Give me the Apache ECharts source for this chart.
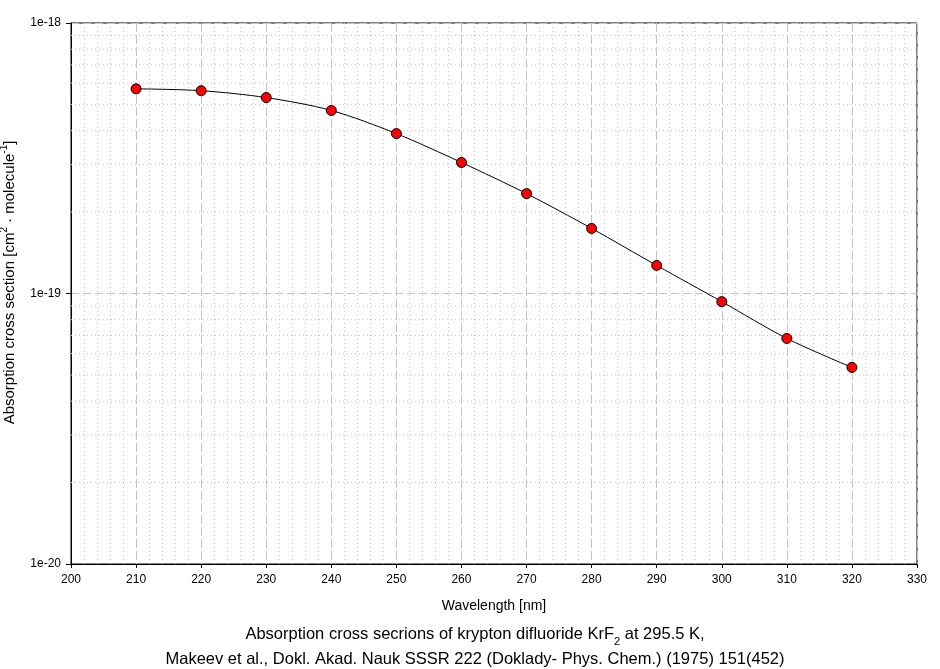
<!DOCTYPE html>
<html>
<head>
<meta charset="utf-8">
<script src="https://cdn.jsdelivr.net/npm/echarts@6/dist/echarts.min.js"></script>
<style>html,body{margin:0;padding:0;background:#fff;}#c{width:940px;height:669px;}</style>
</head>
<body>
<div id="c"></div>
<script>
var wavelengths = [210, 220, 230, 240, 250, 260, 270, 280, 290, 300, 310, 320];
var crossSections = [5.71e-19, 5.62e-19, 5.30e-19, 4.75e-19, 3.90e-19, 3.05e-19, 2.34e-19, 1.74e-19, 1.27e-19, 9.33e-20, 6.82e-20, 5.33e-20];
var minorLogLines = [2e-20,3e-20,4e-20,5e-20,6e-20,7e-20,8e-20,9e-20,2e-19,3e-19,4e-19,5e-19,6e-19,7e-19,8e-19,9e-19];
var xMin = 200, xMax = 330, xStep = 10, xMinorStep = 2;
var yMin = 1e-20, yMax = 1e-18;

var FONT = '"Liberation Sans", Arial, sans-serif';
var GRID_GRAY = '#c4c4c4';
var chart = echarts.init(document.getElementById('c'));
var data = wavelengths.map(function(w, i){ return [w, crossSections[i]]; });

var minorSeries = minorLogLines.map(function(v){
  return {
    type: 'line', data: [[xMin, v], [xMax, v]], symbol: 'none', silent: true,
    lineStyle: {color: GRID_GRAY, type: [1, 3], width: 1},
    emphasis: {disabled: true}, z: 1
  };
});

chart.setOption({
  animation: false,
  backgroundColor: '#fff',
  textStyle: {fontFamily: FONT},
  tooltip: {show: false},
  title: {
    text: '{t|Absorption cross secrions of krypton difluoride KrF}{sub|2}{t| at 295.5 K,}\n{t|Makeev et al., Dokl. Akad. Nauk SSSR 222 (Doklady- Phys. Chem.) (1975) 151(452)}',
    left: 475,
    textAlign: 'center',
    top: 617,
    padding: [5, 0, 5, 0],
    textStyle: {
      fontFamily: FONT, fontSize: 16.5, fontWeight: 'normal', color: '#000', lineHeight: 25,
      rich: {
        t: {fontFamily: FONT, fontSize: 16.5, color: '#000', lineHeight: 25},
        sub: {fontFamily: FONT, fontSize: 11, color: '#000', lineHeight: 25, verticalAlign: 'bottom'}
      }
    }
  },
  grid: {left: 71, right: 23, top: 23, bottom: 105, show: true, borderColor: '#000', borderWidth: 1, backgroundColor: 'transparent', outerBoundsMode: 'none', containLabel: false},
  xAxis: [
    {
      type: 'value', min: xMin, max: xMax, interval: xMinorStep, position: 'bottom',
      show: true, axisLine: {show: false}, axisTick: {show: false}, axisLabel: {show: false},
      splitLine: {show: true, lineStyle: {color: GRID_GRAY, type: [1, 3], width: 1}},
      z: 0
    },
    {
      type: 'value', min: xMin, max: xMax, interval: xStep, position: 'bottom',
      name: 'Wavelength [nm]', nameLocation: 'middle', nameGap: 35,
      nameTextStyle: {fontFamily: FONT, fontSize: 14, color: '#000'},
      axisLine: {show: true, lineStyle: {color: '#000', width: 1}},
      axisTick: {show: true, length: 4, lineStyle: {color: '#000'}},
      axisLabel: {color: '#000', fontSize: 12, fontFamily: FONT, margin: 10},
      splitLine: {show: true, lineStyle: {color: GRID_GRAY, type: [8, 4], width: 1}}
    }
  ],
  yAxis: {
    type: 'log', logBase: 10, min: yMin, max: yMax,
    name: '{t|Absorption cross section [cm}{sup|2}{t| · molecule}{sup|-1}{t|]}',
    nameLocation: 'middle', nameGap: 42, nameRotate: 90,
    nameTextStyle: {
      fontFamily: FONT, fontSize: 15, color: '#000', lineHeight: 20,
      padding: [0, 0, 0, 22],
      rich: {
        t: {fontFamily: FONT, fontSize: 15, color: '#000', lineHeight: 20},
        sup: {fontFamily: FONT, fontSize: 10, color: '#000', lineHeight: 20, verticalAlign: 'top'}
      }
    },
    axisLine: {show: true, lineStyle: {color: '#000', width: 1}},
    axisTick: {show: true, length: 5, lineStyle: {color: '#000'}},
    axisLabel: {color: '#000', fontSize: 12, fontFamily: FONT, margin: 10,
      formatter: function(v){ var e = Math.round(Math.log10(v)); return '1e' + e; }},
    splitLine: {show: true, lineStyle: {color: GRID_GRAY, type: [8, 4], width: 1}}
  },
  series: minorSeries.map(function(s){ s.xAxisIndex = 1; return s; }).concat([
    {
      type: 'line', data: data, smooth: 0.3, xAxisIndex: 1,
      lineStyle: {color: '#000', width: 1},
      symbol: 'circle', symbolSize: 10,
      itemStyle: {color: '#ff0000', borderColor: '#000', borderWidth: 1},
      z: 5
    }
  ])
});
</script>
</body>
</html>
